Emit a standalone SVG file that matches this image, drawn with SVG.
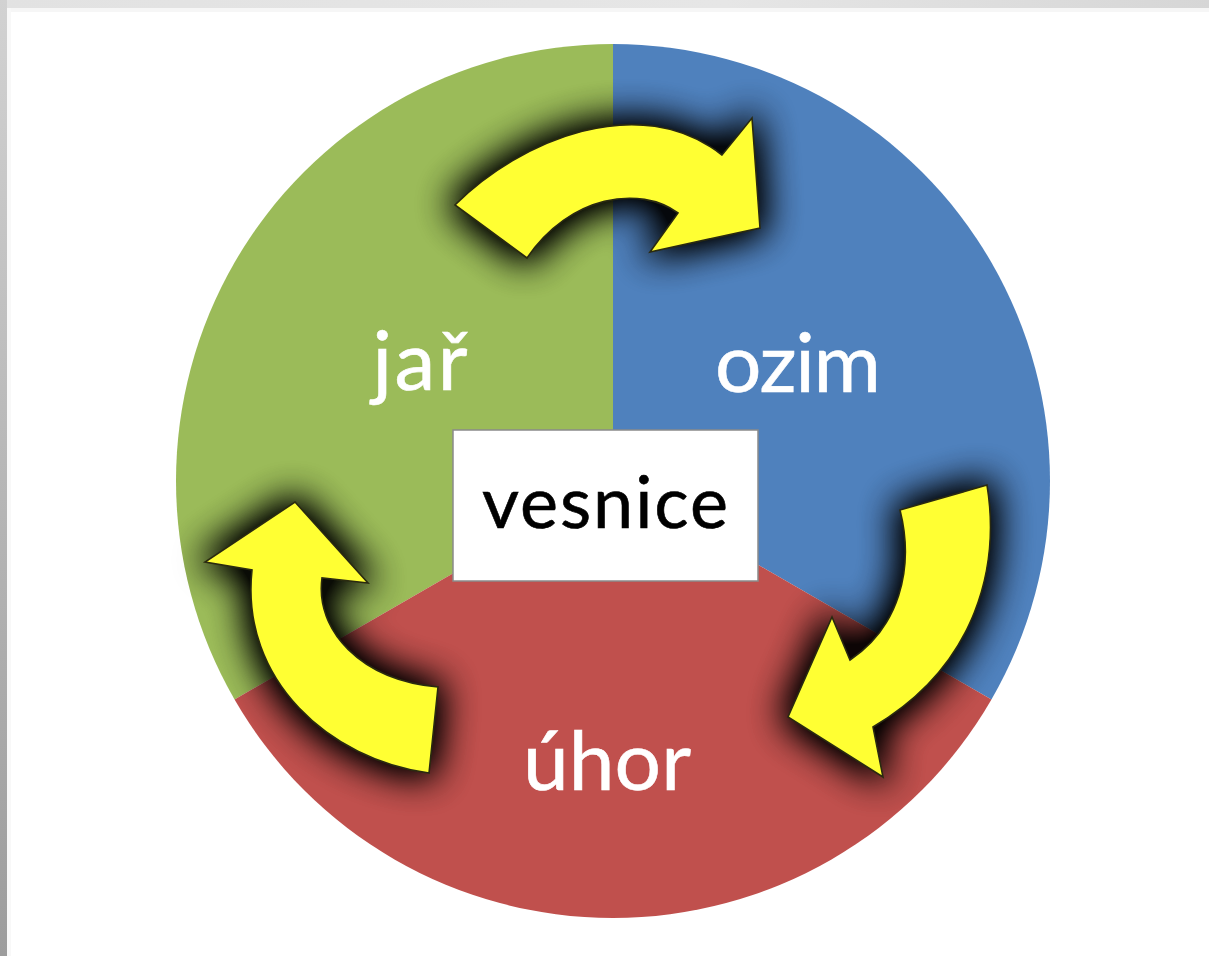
<svg xmlns="http://www.w3.org/2000/svg" xmlns:xlink="http://www.w3.org/1999/xlink" width="1209" height="956" viewBox="0 0 1209 956">
  <defs>
    <style>
      .lbl { font-family: Lato, "Open Sans", "Liberation Sans", sans-serif; font-size: 82px; fill: #ffffff; stroke: #ffffff; stroke-width: 0.6; text-anchor: middle; }
      .center { font-family: Lato, "Open Sans", "Liberation Sans", sans-serif; font-size: 72px; fill: #000000; stroke: #000000; stroke-width: 0.6; text-anchor: middle; }
      .arrow { fill: #ffff33; stroke: #2a2a10; stroke-width: 1.6; stroke-linejoin: miter; }
    </style>
    <linearGradient id="topStrip" x1="0" y1="0" x2="1" y2="0">
      <stop offset="0" stop-color="#e2e2e2"/>
      <stop offset="0.6" stop-color="#e6e6e6"/>
      <stop offset="1" stop-color="#d6d6d6"/>
    </linearGradient>
    <linearGradient id="leftStrip" x1="0" y1="0" x2="0" y2="1">
      <stop offset="0" stop-color="#d2d2d2"/>
      <stop offset="1" stop-color="#9c9c9c"/>
    </linearGradient>
    <clipPath id="circClip">
      <circle cx="613" cy="481" r="437"/>
    </clipPath>
    <filter id="glow" x="-60%" y="-60%" width="220%" height="220%">
      <feMorphology in="SourceAlpha" operator="dilate" radius="4"/>
      <feGaussianBlur stdDeviation="19"/>
      <feComponentTransfer>
        <feFuncA type="linear" slope="1.45"/>
      </feComponentTransfer>
    </filter>
    <path id="aTop" d="M455,205 C520,140 640,90 722,155 L752,118 L760,228 L650,252 L678,213 C640,185 570,195 527,258 Z"/>
    <path id="aRight" d="M987,485 C1000,565 978,665 873,727 L883,777 L788,717 L832,617 L850,660 C898,628 915,570 900,510 Z"/>
    <path id="aLeft" d="M429,773 C330,760 240,680 252,570 L205,562 L295,502 L368,583 L322,578 C315,630 360,680 438,687 Z"/>
  </defs>

  <rect x="0" y="0" width="1209" height="956" fill="#ffffff"/>
  <rect x="0" y="0" width="1209" height="8" fill="url(#topStrip)"/>
  <rect x="0" y="8" width="1209" height="4" fill="#f6f6f6"/>
  <rect x="0" y="0" width="7" height="956" fill="url(#leftStrip)"/>
  <rect x="7" y="8" width="4" height="948" fill="#f8f8f8"/>

  <g id="node-jar">
    <path d="M613,481 L613,44 A437,437 0 0,0 234.55,699.5 Z" fill="#9bbb59"/>
  </g>
  <g id="node-ozim">
    <path d="M613,481 L613,44 A437,437 0 0,1 991.45,699.5 Z" fill="#4f81bd"/>
  </g>
  <g id="node-uhor">
    <path d="M613,481 L991.45,699.5 A437,437 0 0,1 234.55,699.5 Z" fill="#c0504d"/>
  </g>

  <g id="connectors">
    <g opacity="0.2">
      <use xlink:href="#aTop" filter="url(#glow)"/>
      <use xlink:href="#aRight" filter="url(#glow)"/>
      <use xlink:href="#aLeft" filter="url(#glow)"/>
    </g>
    <g clip-path="url(#circClip)" opacity="0.92">
      <use xlink:href="#aTop" filter="url(#glow)"/>
      <use xlink:href="#aRight" filter="url(#glow)"/>
      <use xlink:href="#aLeft" filter="url(#glow)"/>
    </g>
    <use xlink:href="#aTop" class="arrow"/>
    <use xlink:href="#aRight" class="arrow"/>
    <use xlink:href="#aLeft" class="arrow"/>
  </g>

  <g id="labels">
    <text class="lbl" x="420" y="390" textLength="95">jař</text>
    <text class="lbl" x="798" y="392" textLength="166">ozim</text>
    <text class="lbl" x="607" y="790" textLength="168">úhor</text>
  </g>

  <g id="node-vesnice">
    <rect x="453" y="430" width="305" height="151" fill="#ffffff" stroke="#8a8a8a" stroke-width="1.5"/>
    <text class="center" x="605" y="528" textLength="246">vesnice</text>
  </g>
</svg>
